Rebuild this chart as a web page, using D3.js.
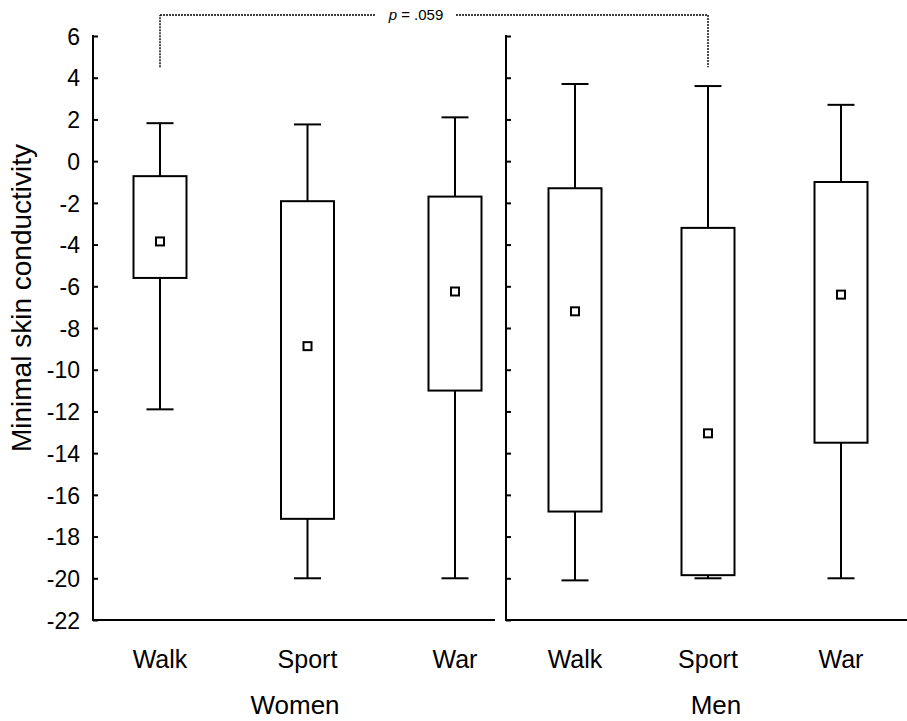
<!DOCTYPE html>
<html><head><meta charset="utf-8">
<script src="https://cdn.jsdelivr.net/npm/d3@7"></script>
<style>body{margin:0;background:#fff}svg{display:block}text{font-family:"Liberation Sans",Arial,sans-serif;fill:#000}</style>
</head><body>
<script>
const groups = ["Women", "Men"];
const categories = ["Walk", "Sport", "War"];
// per group, per category: [whiskerLow, Q1, mean, Q3, whiskerHigh]
const womenStats = [
  [-11.9, -5.6, -3.85, -0.72, 1.82],
  [-20.0, -17.15, -8.87, -1.92, 1.76],
  [-20.0, -11.0, -6.25, -1.7, 2.1]
];
const menStats = [
  [-20.1, -16.8, -7.2, -1.3, 3.7],
  [-20.0, -19.85, -13.05, -3.2, 3.6],
  [-20.0, -13.5, -6.4, -1.0, 2.7]
];
const yTicks = [6, 4, 2, 0, -2, -4, -6, -8, -10, -12, -14, -16, -18, -20, -22];
const yDomain = [-22, 6];
const pLabel = "p = .059";
const pBracketBase = 4.5;

const W = 907, H = 721;
const svg = d3.select("body").append("svg").attr("width", W).attr("height", H);
const y = d3.scaleLinear().domain(yDomain).range([620, 36]);

const panels = [
  {name: groups[0], stats: womenStats, x0: 93, x1: 495, range: [160, 455], labelX: 295},
  {name: groups[1], stats: menStats, x0: 506, x1: 907, range: [575, 841], labelX: 716}
];
const boxW = 53, capW = 25;

panels.forEach((p, pi) => {
  const x = d3.scalePoint().domain(categories).range(p.range);
  p.x = x;
  const g = svg.append("g");
  const ax = d3.axisRight(y).tickValues(yTicks).tickSize(5).tickFormat(pi === 0 ? (d => String(d)) : "");
  const axg = g.append("g").attr("transform", `translate(${p.x0},0)`).call(ax);
  axg.select(".domain").remove();
  axg.selectAll(".tick line").attr("stroke", "#000").attr("stroke-width", 2);
  axg.selectAll(".tick text").attr("x", -13).attr("text-anchor", "end")
     .attr("font-size", 23).attr("dy", "0.36em");
  g.append("line").attr("x1", p.x0).attr("x2", p.x0).attr("y1", y(6) - 1).attr("y2", y(-22))
   .attr("stroke", "#000").attr("stroke-width", 2);
  g.append("line").attr("x1", p.x0 - 1).attr("x2", p.x1).attr("y1", y(-22)).attr("y2", y(-22))
   .attr("stroke", "#000").attr("stroke-width", 2);
  g.selectAll("text.cat").data(categories).join("text").attr("class", "cat")
   .attr("x", d => x(d)).attr("y", 668).attr("text-anchor", "middle").attr("font-size", 25).text(d => d);
  g.append("text").attr("x", p.labelX).attr("y", 714)
   .attr("text-anchor", "middle").attr("font-size", 26).text(p.name);
  categories.forEach((c, ci) => {
    const s = p.stats[ci];
    const cx = x(c);
    const line = (x1, y1, x2, y2) => g.append("line").attr("x1", x1).attr("y1", y1).attr("x2", x2).attr("y2", y2)
      .attr("stroke", "#000").attr("stroke-width", 2);
    line(cx, y(s[4]), cx, y(s[3]));
    line(cx, y(s[1]), cx, y(s[0]));
    line(cx - capW / 2 - 1, y(s[4]), cx + capW / 2 + 1, y(s[4]));
    line(cx - capW / 2 - 1, y(s[0]), cx + capW / 2 + 1, y(s[0]));
    g.append("rect").attr("x", cx - boxW / 2).attr("y", y(s[3])).attr("width", boxW)
     .attr("height", y(s[1]) - y(s[3])).attr("fill", "#fff").attr("stroke", "#000").attr("stroke-width", 2);
    g.append("rect").attr("x", cx - 4).attr("y", y(s[2]) - 4).attr("width", 8).attr("height", 8)
     .attr("fill", "#fff").attr("stroke", "#000").attr("stroke-width", 2);
  });
});

svg.append("text").attr("transform", `translate(31,298) rotate(-90)`).attr("text-anchor", "middle")
  .attr("font-size", 28).text("Minimal skin conductivity");

const xa = panels[0].x(categories[0]), xb = panels[1].x(categories[1]);
const by = 15;
const dl = (x1, y1, x2, y2) => svg.append("line").attr("x1", x1).attr("y1", y1).attr("x2", x2).attr("y2", y2)
  .attr("stroke", "#000").attr("stroke-width", 1.4).attr("stroke-dasharray", "2,1");
const tx = 416;
dl(xa, y(pBracketBase), xa, by);
dl(xa, by, tx - 40, by);
dl(tx + 40, by, xb, by);
dl(xb, by, xb, y(pBracketBase));
const pt = svg.append("text").attr("x", tx).attr("y", by + 5).attr("text-anchor", "middle").attr("font-size", 15);
pt.append("tspan").attr("font-style", "italic").text(pLabel.split(" ")[0]);
pt.append("tspan").text(" " + pLabel.split(" ").slice(1).join(" "));
</script>
</body></html>
